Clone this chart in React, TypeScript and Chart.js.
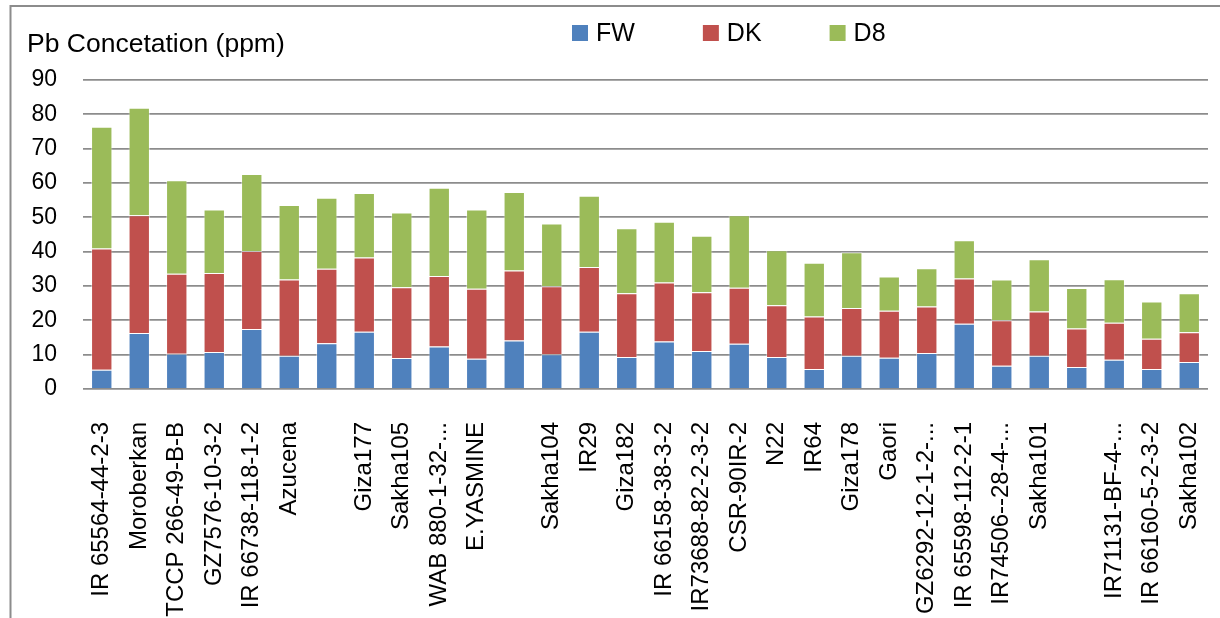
import React, { useEffect, useRef } from "react";
import { Chart, registerables } from "chart.js";

Chart.register(...registerables);

const categories: string[] = [
  "IR 65564-44-2-3", "Moroberkan", "TCCP 266-49-B-B", "GZ7576-10-3-2", "IR 66738-118-1-2",
  "Azucena", "", "Giza177", "Sakha105", "WAB 880-1-32-...",
  "E.YASMINE", "", "Sakha104", "IR29", "Giza182",
  "IR 66158-38-3-2", "IR73688-82-2-3-2", "CSR-90IR-2", "N22", "IR64",
  "Giza178", "Gaori", "GZ6292-12-1-2-...", "IR 65598-112-2-1", "IR74506--28-4-...",
  "Sakha101", "", "IR71131-BF-4-...", "IR 66160-5-2-3-2", "Sakha102",
];

const fwValues: number[] = [
  5.6, 16.3, 10.3, 10.8, 17.5, 9.7, 13.3, 16.7, 9.0, 12.4,
  8.8, 14.1, 10.1, 16.7, 9.3, 13.8, 11.1, 13.2, 9.3, 5.8,
  9.7, 9.1, 10.5, 19.0, 6.8, 9.7, 6.4, 8.5, 5.8, 7.9,
];

const dkValues: number[] = [
  35.3, 34.3, 23.3, 23.0, 22.7, 22.2, 21.7, 21.6, 20.6, 20.5,
  20.4, 20.4, 19.8, 18.8, 18.6, 17.2, 17.1, 16.3, 15.1, 15.3,
  13.9, 13.7, 13.5, 13.2, 13.2, 12.9, 11.2, 10.8, 8.8, 8.6,
];

const d8Values: number[] = [
  35.5, 31.3, 27.2, 18.5, 22.4, 21.7, 20.7, 18.8, 21.8, 25.7,
  23.1, 22.9, 18.3, 20.8, 18.9, 17.7, 16.4, 21.1, 16.0, 15.7,
  16.2, 10.0, 11.2, 11.1, 11.9, 15.2, 11.8, 12.7, 10.9, 11.4,
];

const seriesNames: string[] = ["FW", "DK", "D8"];
const seriesColors: string[] = ["#4F81BD", "#C0504D", "#9BBB59"];
const yTitle = "Pb Concetation (ppm)";

const FONT = "'Liberation Sans', Arial, sans-serif";

const decorPlugin = {
  id: "decor",
  beforeDraw(chart: any) {
    const ctx = chart.ctx;
    ctx.save();
    ctx.fillStyle = "#ffffff";
    ctx.fillRect(0, 0, chart.width, chart.height);
    ctx.strokeStyle = "#8c8c8c";
    ctx.lineWidth = 2;
    ctx.beginPath();
    ctx.moveTo(10.5, chart.height);
    ctx.lineTo(10.5, 6);
    ctx.lineTo(chart.width, 6);
    ctx.stroke();
    ctx.restore();
  },
  afterDraw(chart: any) {
    const ctx = chart.ctx;
    ctx.save();
    // axis title
    ctx.fillStyle = "#000000";
    ctx.font = `26.5px ${FONT}`;
    ctx.textAlign = "left";
    ctx.textBaseline = "alphabetic";
    ctx.fillText(yTitle, 27, 52);
    // legend
    ctx.font = `25px ${FONT}`;
    ctx.textBaseline = "middle";
    let x = 572;
    chart.data.datasets.forEach((ds: any) => {
      ctx.fillStyle = ds.backgroundColor;
      ctx.fillRect(x, 25, 16, 16);
      ctx.fillStyle = "#000000";
      ctx.fillText(ds.label, x + 24, 34);
      x += 24 + ctx.measureText(ds.label).width + 68;
    });
    ctx.restore();
  },
};

export default function App() {
  const canvasRef = useRef<HTMLCanvasElement | null>(null);

  useEffect(() => {
    if (!canvasRef.current) return;
    const values = [fwValues, dkValues, d8Values];
    const chart = new Chart(canvasRef.current, {
      type: "bar",
      data: {
        labels: categories,
        datasets: seriesNames.map((name, i) => ({
          label: name,
          data: values[i],
          backgroundColor: seriesColors[i],
          borderColor: "rgba(255,255,255,0.45)",
          borderWidth: 1,
          categoryPercentage: 1,
          barPercentage: 0.57,
        })),
      },
      options: {
        responsive: false,
        animation: false,
        devicePixelRatio: 1,
        layout: { padding: { left: 0, right: 12, top: 80, bottom: 0 } },
        plugins: {
          legend: { display: false },
          title: { display: false },
          tooltip: { enabled: false },
        },
        scales: {
          x: {
            stacked: true,
            grid: { display: false },
            border: { display: false },
            ticks: {
              autoSkip: false,
              minRotation: 90,
              maxRotation: 90,
              padding: 25,
              color: "#000000",
              font: { family: FONT, size: 24 },
            },
            afterFit(scale: any) {
              scale.height = 229;
              scale.paddingLeft = 0;
              scale.paddingRight = 0;
            },
          },
          y: {
            stacked: true,
            min: 0,
            max: 90,
            grid: {
              color: "#8c8c8c",
              lineWidth: 1.8,
              drawTicks: false,
            },
            border: { display: false },
            ticks: {
              stepSize: 10,
              padding: 26,
              color: "#000000",
              font: { family: FONT, size: 23 },
            },
            afterFit(scale: any) {
              scale.width = 83;
              scale.paddingTop = 0;
              scale.paddingBottom = 0;
            },
          },
        },
      },
      plugins: [decorPlugin],
    });
    return () => chart.destroy();
  }, []);

  return (
    <div style={{ position: "fixed", left: 0, top: 0, width: 1220, height: 618, background: "#fff" }}>
      <canvas ref={canvasRef} width={1220} height={618} style={{ width: 1220, height: 618, display: "block" }} />
    </div>
  );
}
